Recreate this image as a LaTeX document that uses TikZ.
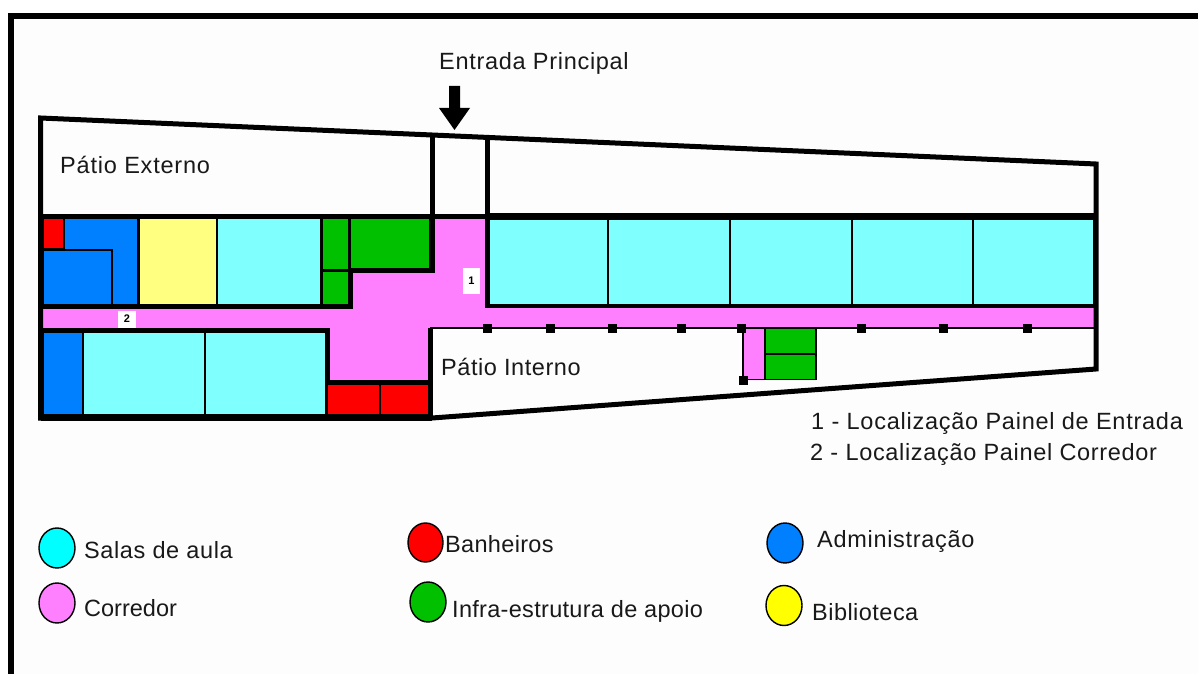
\documentclass[tikz,border=0pt]{standalone}
\usepackage{fontspec}
\setmainfont{Liberation Sans}
\definecolor{cy}{RGB}{128,255,255}
\definecolor{cyl}{RGB}{0,255,255}
\definecolor{pk}{RGB}{255,128,255}
\definecolor{bl}{RGB}{0,128,255}
\definecolor{gr}{RGB}{0,192,0}
\definecolor{rd}{RGB}{255,0,0}
\definecolor{ye}{RGB}{255,255,128}
\definecolor{yel}{RGB}{255,255,0}
\definecolor{txt}{RGB}{25,25,25}
\definecolor{paper}{RGB}{253,253,253}
\tikzset{
  room/.style={draw=black,line width=1.4pt},
  wall/.style={draw=black,line width=5pt,line cap=butt,line join=miter},
  thin wall/.style={draw=black,line width=1.4pt},
  post/.style={fill=black,draw=none,minimum size=9pt,inner sep=0pt},
  lbl/.style={font=\fontsize{23.5}{27}\selectfont\addfontfeature{LetterSpace=#1},text=txt,anchor=base west,inner sep=0pt},
  tag/.style={fill=white,draw=none,inner sep=0pt,font=\fontsize{11}{12}\selectfont\bfseries},
  key/.style={draw=black,line width=1.4pt}
}
\begin{document}
\begin{tikzpicture}[x=1pt,y=-1pt]
\useasboundingbox (0,0) rectangle (1198,674);
\fill[white] (0,0) rectangle (1198,674);
\fill[paper] (14,19) rectangle (1198,674);
% page frame
\fill[black] (8,13) rectangle (1198,19);
\fill[black] (8,13) rectangle (14,674);
% corridor
\fill[pk] (43,308) -- (350,308) -- (350,270) -- (432,270) -- (432,216) -- (487,216) -- (487,306) -- (1094,306) -- (1094,328) -- (765,328) -- (765,380) -- (743,380) -- (743,328) -- (430,328) -- (430,384) -- (327,384) -- (327,330) -- (43,330) -- cycle;
% upper rooms
\draw[room,fill=bl] (43,218) rectangle (138,305);
\draw[room,fill=rd] (43,218) rectangle (64,249);
\draw[room,fill=bl] (43,250) rectangle (112,305);
\draw[room,fill=ye] (139,218) rectangle (217,305);
\draw[room,fill=cy] (217,218) rectangle (321,305);
\draw[room,fill=gr] (322,218) rectangle (349,270);
\draw[room,fill=gr] (322,271) rectangle (349,305);
\draw[room,fill=gr] (350,218) rectangle (430,269);
% upper right classrooms
\foreach \a/\b in {489/608,608/730,730/852,852/973,973/1094}
  \draw[room,fill=cy] (\a,218) rectangle (\b,305);
% lower rooms
\draw[room,fill=bl] (43,332) rectangle (83,415);
\draw[room,fill=cy] (83,332) rectangle (205,415);
\draw[room,fill=cy] (205,332) rectangle (326,415);
\draw[room,fill=rd] (327,384) rectangle (380,415);
\draw[room,fill=rd] (380,384) rectangle (429,415);
% annex
\draw[room,fill=gr] (765,328) rectangle (816,379.5);
\draw[room] (765,354) -- (816,354);
\draw[thin wall] (743,328) -- (743,380) (743,379.5) -- (765,379.5);
\draw[thin wall] (430,328) -- (1094,328);
% walls
\draw[wall] (40.5,418) -- (40.5,118) -- (432,135) -- (1096,164) -- (1096,369) -- (432,418) -- cycle;
\draw[wall,line width=6pt] (40.5,418) -- (432,418);
\draw[wall] (40,216) -- (487,216);
\draw[wall,line width=6.7pt] (485,216.7) -- (1098,216.7);
\draw[wall] (432,135) -- (432,270.8) -- (350,270.8) -- (350,306) -- (40,306);
\draw[wall] (487,135) -- (487,306);
\draw[wall,line width=3.8pt] (484.5,306) -- (1096,306);
\draw[wall] (40,330) -- (327,330) -- (327,382) -- (430,382);
\draw[wall] (430,328) -- (430,418);
% posts
\foreach \p/\x/\y in {a/487/328,b/550/328,c/612/328,d/681/328,e/741/328,f/861/328,g/943/328,h/1027/328,i/743/380}
  \node[post] (post\p) at (\x,\y) {};
% tags
\node[tag,minimum width=17pt,minimum height=26pt] (t1) at (471.5,281) {1};
\node[tag,minimum width=18pt,minimum height=17pt] (t2) at (127,319) {2};
% entrance arrow
\fill[black] (449,86) -- (460,86) -- (460,108) -- (470,108) -- (454.5,130) -- (439,108) -- (449,108) -- cycle;
% labels
\node[lbl=3] (ep) at (439,70) {Entrada Principal};
\node[lbl=3.4] (pe) at (60,173) {Pátio Externo};
\node[lbl=2.4] (pi) at (441,375) {Pátio Interno};
\node[lbl=3.2] (l1) at (811,429) {1 - Localização Painel de Entrada};
\node[lbl=2.9] (l2) at (810,460) {2 - Localização Painel Corredor};
% legend
\draw[key,fill=cyl] (57,548) ellipse (18 and 20);
\draw[key,fill=pk] (57,603) ellipse (18 and 20);
\draw[key,fill=rd] (425.5,542.5) ellipse (17.5 and 19.5);
\draw[key,fill=gr] (428,602) ellipse (18 and 20);
\draw[key,fill=bl] (785,543) ellipse (18 and 20);
\draw[key,fill=yel] (784,605.5) ellipse (18 and 20);
\node[lbl=2.6] (k1) at (84,558) {Salas de aula};
\node[lbl=0] (k2) at (84,616) {Corredor};
\node[lbl=1.4] (k3) at (445,552) {Banheiros};
\node[lbl=1.3] (k4) at (452,617) {Infra-estrutura de apoio};
\node[lbl=3] (k5) at (817,547) {Administração};
\node[lbl=2] (k6) at (812,620) {Biblioteca};
\end{tikzpicture}
\end{document}
